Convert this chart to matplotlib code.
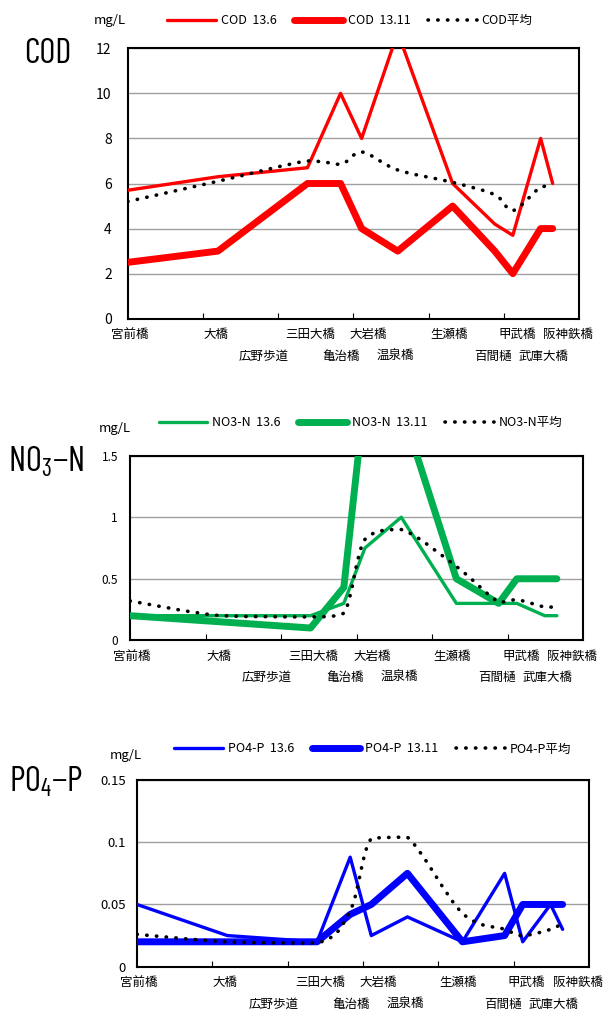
import numpy as np
import matplotlib
matplotlib.use("Agg")
import matplotlib.pyplot as plt
from matplotlib.path import Path
from matplotlib.patches import PathPatch
from matplotlib.lines import Line2D
from matplotlib import font_manager

# フォント設定
plt.rcParams["font.family"] = ["Noto Sans CJK JP", "DejaVu Sans"]
installed = {f.name for f in font_manager.fontManager.ttflist}
narrow = next(f for f in ["Barlow Condensed", "Roboto Condensed", "Archivo Narrow",
                          "PT Sans Narrow", "Liberation Sans Narrow", "Liberation Sans"]
              if f in installed)
plt.rcParams["mathtext.fontset"] = "custom"
plt.rcParams["mathtext.rm"] = narrow
plt.rcParams["mathtext.it"] = narrow
plt.rcParams["mathtext.bf"] = narrow

# 地点と距離
stations = ["宮前橋", "大橋", "広野歩道", "三田大橋", "亀治橋", "大岩橋",
            "温泉橋", "生瀬橋", "百間樋", "甲武橋", "武庫大橋", "阪神鉄橋"]
dist = [0.0, 12.0, 18.1, 23.9, 28.3, 31.1, 35.9, 43.2, 48.8, 51.2, 54.9, 56.5]

nan = np.nan
cod_136 = [5.7, 6.3, nan, 6.7, 10.0, 8.0, 12.7, 6.0, 4.2, 3.7, 8.0, 6.0]
cod_1311 = [2.5, 3.0, nan, 6.0, 6.0, 4.0, 3.0, 5.0, 3.0, 2.0, 4.0, 4.0]
cod_avg = [5.2, 6.1, nan, 7.0, 6.85, 7.4, 6.6, 6.05, 5.5, 4.8, 5.85, 5.9]

no3_136 = [0.2, 0.2, nan, 0.2, 0.3, 0.75, 1.0, 0.3, 0.3, 0.3, 0.2, 0.2]
no3_1311 = [0.2, 0.15, nan, 0.1, 0.43, 2.0, 1.9, 0.5, 0.3, 0.5, 0.5, 0.5]
no3_avg = [0.32, 0.2, nan, 0.19, 0.22, 0.82, 0.9, 0.6, 0.31, 0.33, 0.27, 0.27]

po4_136 = [0.05, 0.025, nan, 0.02, 0.088, 0.025, 0.04, 0.02, 0.075, 0.02, 0.05, 0.03]
po4_1311 = [0.02, 0.02, nan, 0.02, 0.042, 0.05, 0.075, 0.02, 0.025, 0.05, 0.05, 0.05]
po4_avg = [0.026, 0.02, nan, 0.019, 0.045, 0.103, 0.104, 0.043, 0.03, 0.025, 0.03, 0.035]

# ラベルの段 (0=上段, 1=下段) と横ずらし(px)
label_row = [0, 0, 1, 0, 1, 0, 1, 0, 1, 0, 1, 0]
label_nudge = [2, -2, 0, 3, 1, 7, -2, -4, -2, 4, 3, 15]

W, H = 603, 1010
fig = plt.figure(figsize=(W / 100, H / 100), dpi=100)

DOTS = (0, (0.1, 2.6))


def smooth_path(xs, ys):
    # Excelの平滑線っぽく (Catmull-Rom -> Bezier, 行き過ぎは抑える)
    p = np.column_stack([xs, ys])
    verts = [p[0]]
    codes = [Path.MOVETO]
    n = len(p)
    for i in range(n - 1):
        p0 = p[i - 1] if i > 0 else p[i]
        p3 = p[i + 2] if i + 2 < n else p[i + 1]
        c1 = p[i] + (p[i + 1] - p0) / 6
        c2 = p[i + 1] - (p3 - p[i]) / 6
        lo, hi = sorted((p[i][1], p[i + 1][1]))
        c1[1] = np.clip(c1[1], lo, hi)
        c2[1] = np.clip(c2[1], lo, hi)
        verts += [c1, c2, p[i + 1]]
        codes += [Path.CURVE4] * 3
    return Path(verts, codes)


def panel(box, color, thin, thick, avg, name, ylim, yticks, ypad, yfs,
          leg_xy, unit_xy, title, title_xy):
    l, r, t, b = box
    ax = fig.add_axes([l / W, 1 - b / H, (r - l) / W, (b - t) / H])
    x = np.array(dist)

    def valid(v):
        v = np.array(v, dtype=float)
        m = ~np.isnan(v)
        return x[m], v[m]

    h1, = ax.plot(*valid(thin), color=color, lw=2.4, solid_joinstyle="round",
                  solid_capstyle="round", zorder=3)
    h2, = ax.plot(*valid(thick), color=color, lw=5.0, solid_joinstyle="round",
                  solid_capstyle="round", zorder=4)
    ax.add_patch(PathPatch(smooth_path(*valid(avg)), fill=False, edgecolor="black",
                           lw=2.6, linestyle=DOTS, capstyle="round", zorder=5))
    h3 = Line2D([], [], color="black", lw=2.6, linestyle=DOTS, dash_capstyle="round")

    ax.set_xlim(0, 60)
    ax.set_ylim(*ylim)
    ax.set_xticks([10, 20, 30, 40, 50])
    ax.set_yticks(yticks)
    ax.set_yticklabels([f"{v:g}" for v in yticks])
    ax.tick_params(axis="x", direction="in", length=4, width=0.8, labelbottom=False)
    ax.tick_params(axis="y", length=0, pad=ypad, labelsize=yfs)
    ax.yaxis.grid(True, color="#A0A0A0", lw=1.0)
    ax.set_axisbelow(True)
    for s in ax.spines.values():
        s.set_linewidth(1.5)
        s.set_color("black")

    for name_i, xi, row, nd in zip(stations, dist, label_row, label_nudge):
        ax.annotate(name_i, xy=(xi, 0), xycoords=ax.get_xaxis_transform(),
                    xytext=(nd * 0.72, -11.5 if row == 0 else -27),
                    textcoords="offset points", ha="center", va="center",
                    fontsize=9)

    ax.legend([h1, h2, h3], [f"{name}  13.6", f"{name}  13.11", f"{name}平均"],
              loc="center left", bbox_to_anchor=(leg_xy[0] / W, 1 - leg_xy[1] / H),
              bbox_transform=fig.transFigure, ncol=3, frameon=False, fontsize=9,
              handlelength=3.9, handletextpad=0.4, columnspacing=1.4,
              borderpad=0, borderaxespad=0)
    fig.text(unit_xy[0] / W, 1 - unit_xy[1] / H, "mg/L", ha="center", va="center",
             fontsize=9.5)
    fig.text(title_xy[0] / W, 1 - title_xy[1] / H, title, ha="center",
             va="baseline", fontsize=25, family=narrow)
    return ax


panel((127.7, 579, 48.3, 318.7), "#FF0000", cod_136, cod_1311, cod_avg, "COD",
      (0, 12), [0, 2, 4, 6, 8, 10, 12], 11.5, 10,
      (167, 20.7), (110, 20.7), "COD", (48, 63))
panel((130, 583.3, 455.7, 640.3), "#00B050", no3_136, no3_1311, no3_avg, "NO3-N",
      (0, 1.5), [0, 0.5, 1, 1.5], 8.6, 8.5,
      (158.5, 422.7), (114.5, 429), "NO$_3$\u2212N", (46, 471.7))
panel((137, 589, 780, 966.7), "#0000FF", po4_136, po4_1311, po4_avg, "PO4-P",
      (0, 0.15), [0, 0.05, 0.1, 0.15], 8, 9.5,
      (174, 749), (126, 756), "PO$_4$\u2212P", (46, 792))

fig.savefig("out.png", dpi=100)
